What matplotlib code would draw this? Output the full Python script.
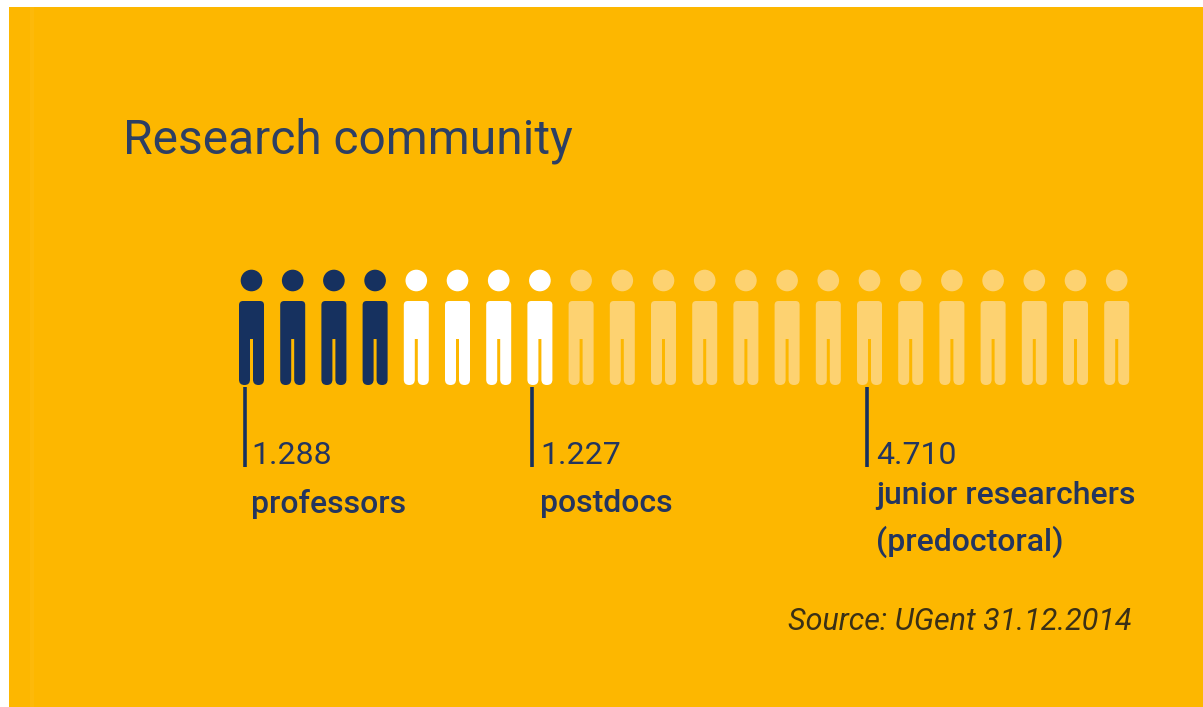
"""
Research community pictogram: one row of people icons split by staff group.
"""

import matplotlib
matplotlib.use("Agg")
import matplotlib.pyplot as plt
from matplotlib.patches import Circle, PathPatch, Rectangle
from matplotlib.path import Path

WIDTH, HEIGHT = 1203, 707

group_lines = [["professors"], ["postdocs"], ["junior researchers", "(predoctoral)"]]
headcounts = [1288, 1227, 4710]
icon_counts = [4, 4, 14]
count_labels = ["1.288", "1.227", "4.710"]
title = "Research community"
source = "Source: UGent 31.12.2014"

C = {
    "bg": "#FDB700", "stripe": "#FDB90A", "navy": "#16315F", "text": "#23355F",
    "title": "#2D3F63", "white": "#FFFFFF", "pale": "#FDD271", "source": "#3A3016",
}
ICON_COLORS = [C["navy"], C["white"], C["pale"]]

X0 = 239
STEP = 41.2
ICON_W = 25
TOP, CROTCH, BOTTOM = 301, 339, 385
GAP = 3
R_TOP, R_FOOT = 4, 5.4


def body_path(x):
    """Torso and two legs as one outline, clockwise from the top left."""
    w, leg = ICON_W, (ICON_W - GAP) / 2
    verts = [
        (x + R_TOP, TOP), (x + w - R_TOP, TOP),
        (x + w, TOP), (x + w, TOP + R_TOP),
        (x + w, BOTTOM - R_FOOT),
        (x + w, BOTTOM), (x + w - R_FOOT, BOTTOM),
        (x + w - leg + R_FOOT, BOTTOM),
        (x + w - leg, BOTTOM), (x + w - leg, BOTTOM - R_FOOT),
        (x + w - leg, CROTCH), (x + leg, CROTCH),
        (x + leg, BOTTOM - R_FOOT),
        (x + leg, BOTTOM), (x + leg - R_FOOT, BOTTOM),
        (x + R_FOOT, BOTTOM),
        (x, BOTTOM), (x, BOTTOM - R_FOOT),
        (x, TOP + R_TOP),
        (x, TOP), (x + R_TOP, TOP),
    ]
    L, Q = Path.LINETO, Path.CURVE3
    codes = [Path.MOVETO, L, Q, Q, L, Q, Q, L, Q, Q, L, L, L, Q, Q, L, Q, Q, L, Q, Q]
    return Path(verts, codes)


def person(ax, x, color):
    ax.add_patch(Circle((x + ICON_W / 2, 280.5), 10.8, facecolor=color, edgecolor="none"))
    ax.add_patch(PathPatch(body_path(x), facecolor=color, edgecolor="none", snap=False))


def main():
    plt.rcParams["font.family"] = ["Roboto", "DejaVu Sans"]
    fig = plt.figure(figsize=(WIDTH / 100, HEIGHT / 100), dpi=100, facecolor="white")
    ax = fig.add_axes([0, 0, 1, 1])
    ax.set_xlim(0, WIDTH)
    ax.set_ylim(HEIGHT, 0)
    ax.axis("off")

    ax.add_patch(Rectangle((9, 7), WIDTH - 9, HEIGHT - 7, facecolor=C["bg"], edgecolor="none"))
    ax.add_patch(Rectangle((30, 7), 4, HEIGHT - 7, facecolor=C["stripe"], edgecolor="none"))

    ax.text(123, 141, title, fontsize=34.5, color=C["title"], ha="left", va="center")

    k = 0
    for n, color in zip(icon_counts, ICON_COLORS):
        for _ in range(n):
            person(ax, X0 + k * STEP, color)
            k += 1

    # leader line and label for each group
    line_x = [244.5, 531.5, 866.5]
    text_x = [251, 540, 876]
    group_y = [[504], [504], [495, 542]]
    for lx, tx, ys, lab, lines in zip(line_x, text_x, group_y, count_labels, group_lines):
        ax.plot([lx, lx], [387, 467], color=C["navy"], lw=2.6, solid_capstyle="butt")
        ax.text(tx, 456, lab, fontsize=23, color=C["text"], ha="left", va="center")
        for y, line in zip(ys, lines):
            ax.text(tx, y, line, fontsize=23, fontweight="medium", color=C["text"],
                    ha="left", va="center")

    ax.text(1132, 622, source, fontsize=22, style="italic", color=C["source"],
            ha="right", va="center")

    fig.savefig("out.png", dpi=100, facecolor="white")
    plt.close(fig)


if __name__ == "__main__":
    main()
